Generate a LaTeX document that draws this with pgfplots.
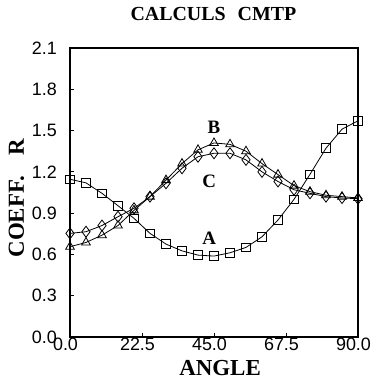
\documentclass[border=0pt]{standalone}
\usepackage{pgfplots}
\pgfplotsset{compat=1.18}
\usepackage{fontspec}
\setmainfont{Liberation Serif}
\newfontfamily\sansf{Liberation Sans}
\begin{document}
\begin{tikzpicture}[x=1bp,y=1bp]
\path[use as bounding box] (0,0) rectangle (378,382);
\begin{axis}[
  at={(70bp,45bp)}, anchor=south west,
  scale only axis, width=288bp, height=289bp,
  xmin=0, xmax=90, ymin=0, ymax=2.1,
  axis line style={line width=1.1pt},
  xtick={0,22.5,45,67.5,90},
  xticklabels={0.0,22.5,45.0,67.5,90.0},
  ytick={0,0.3,0.6,0.9,1.2,1.5,1.8,2.1},
  yticklabels={0.0,0.3,0.6,0.9,1.2,1.5,1.8,2.1},
  tick pos=left, tick align=inside,
  major tick length=4bp,
  tick style={line width=0.8pt, black},
  ticklabel style={font=\sansf\fontsize{18}{18}\selectfont, inner sep=0pt},
  xticklabel style={anchor=north, yshift=-1bp, xshift=-4.5bp},
  yticklabel style={anchor=east, xshift=-13bp},
  title={CALCULS\hspace{0.6em}CMTP},
  title style={font=\bfseries\fontsize{20}{20}\selectfont, at={(axis description cs:0.498,1.097)}, anchor=center},
  xlabel={ANGLE},
  xlabel style={font=\bfseries\fontsize{23}{23}\selectfont, at={(axis description cs:0.521,-0.107)}, anchor=center},
  ylabel={COEFF.\hspace{0.9em}R},
  ylabel style={font=\bfseries\fontsize{23}{23}\selectfont, at={(axis description cs:-0.186,0.48)}, anchor=center, rotate=0},
  every axis plot/.append style={black, line width=0.8pt, mark options={solid, line width=0.8pt}},
  clip=false,
]
% A (squares)
\addplot[mark=square, mark size=4.3bp] coordinates {
(0,1.146) (5,1.12) (10,1.044) (15,0.954) (20,0.862) (25,0.753) (30,0.675)
(35,0.626) (40,0.595) (45,0.588) (50,0.612) (55,0.651) (60,0.728) (65,0.85)
(70,1.0) (75,1.182) (80,1.372) (85,1.51) (90,1.571)};
% B (triangles)
\addplot[mark=triangle, mark size=5bp] coordinates {
(0,0.656) (5,0.687) (10,0.74) (15,0.81) (20,0.92) (25,1.02) (30,1.14)
(35,1.26) (40,1.36) (45,1.41) (50,1.40) (55,1.35) (60,1.26) (65,1.18)
(70,1.10) (75,1.056) (80,1.03) (85,1.02) (90,1.01)};
% C (diamonds)
\addplot[mark=diamond, mark size=5.5bp] coordinates {
(0,0.753) (5,0.765) (10,0.81) (15,0.874) (20,0.935) (25,1.02) (30,1.117)
(35,1.226) (40,1.31) (45,1.335) (50,1.335) (55,1.287) (60,1.2) (65,1.13)
(70,1.07) (75,1.044) (80,1.02) (85,1.01) (90,1.005)};
\node[font=\bfseries\fontsize{19}{19}\selectfont] at (axis cs:43.5,0.717) {A};
\node[font=\bfseries\fontsize{19}{19}\selectfont] at (axis cs:45,1.521) {B};
\node[font=\bfseries\fontsize{19}{19}\selectfont] at (axis cs:43.5,1.129) {C};
\end{axis}
\end{tikzpicture}
\end{document}
